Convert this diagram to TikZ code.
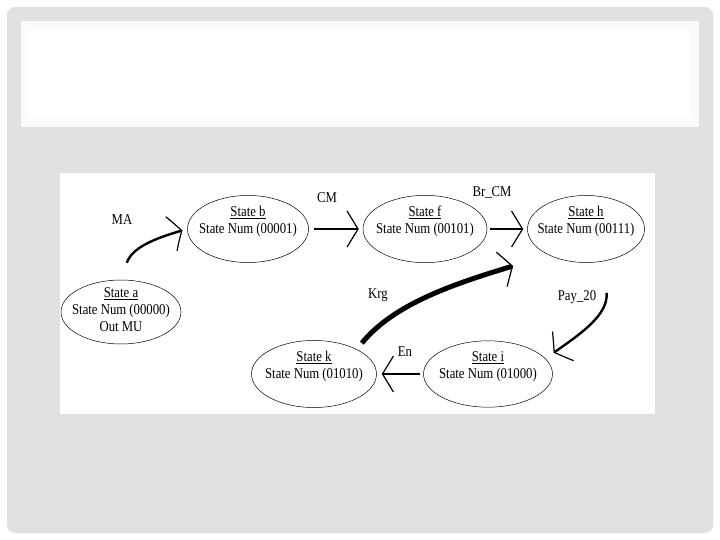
\documentclass[tikz,border=0pt]{standalone}
\usepackage{fontspec}
\setmainfont{Liberation Serif}[FakeStretch=0.85]
\usetikzlibrary{shapes.geometric,arrows.meta,bending}
\definecolor{slidegray}{RGB}{224,224,224}
\definecolor{titlewhite}{RGB}{250,250,250}
\tikzset{
  statenode/.style={ellipse, draw, line width=0.5pt, align=center,
    inner xsep=-8pt, inner ysep=1pt, text depth=18pt,
    font=\fontsize{15}{17}\selectfont},
  swoosh/.style={line width=2.4pt,
    -{Straight Barb[bend,length=11pt,width=36pt,line width=1.2pt]}},
  lbl/.style={font=\fontsize{15}{17}\selectfont},
}
\begin{document}
\begin{tikzpicture}[x=1pt, y=-1pt]
  % slide
  \useasboundingbox (0,0) rectangle (720,540);
  \fill[white] (0,0) rectangle (720,540);
  \fill[slidegray, rounded corners=8pt] (7,7) rectangle (713,533);
  \fill[titlewhite] (21,21) rectangle (699,127);
  \fill[white] (28,29) rectangle (690,118);
  \fill[white] (60,173) rectangle (655,414);

  % states
  \node[statenode, minimum width=120pt, minimum height=64pt, inner ysep=-7pt, text depth=4pt]
    (a) at (121,312) {\underline{State a}\\State Num (00000)\\Out MU};
  \node[statenode, minimum width=121pt, minimum height=64pt] (b) at (248,229) {\underline{State b}\\State Num (00001)};
  \node[statenode, minimum width=124pt, minimum height=62pt] (f) at (425,229) {\underline{State f}\\State Num (00101)};
  \node[statenode, minimum width=117pt, minimum height=62pt] (h) at (586,229) {\underline{State h}\\State Num (00111)};
  \node[statenode, minimum width=125pt, minimum height=58pt] (k) at (314,374) {\underline{State k}\\State Num (01010)};
  \node[statenode, minimum width=129pt, minimum height=58pt] (i) at (488,374) {\underline{State i}\\State Num (01000)};

  % transitions
  \draw[swoosh, shorten <=18pt, shorten >=5pt] (a.north) .. controls +(12,-35) and +(-28,8) .. (b.west);
  \draw[swoosh, shorten <=5pt, shorten >=4pt] (b.east) -- (f.west);
  \draw[swoosh, shorten <=3pt, shorten >=4pt] (f.east) -- (h.west);
  \draw[swoosh, shorten <=32pt, shorten >=10pt] (h.-60) .. controls +(4,60) and +(30,-22) .. (i.15);
  \draw[swoosh, shorten <=3pt, shorten >=5pt] (i.west) -- (k.east);
  \draw[swoosh, line width=5pt, shorten <=8pt, shorten >=37pt] (k.30) .. controls +(45,-55) and +(-70,22) .. (h.-145);

  % labels
  \node[lbl] (lMA) at (122,220) {MA};
  \node[lbl] (lCM) at (327,198) {CM};
  \node[lbl] (lBrCM) at (492,193) {Br\_CM};
  \node[lbl] (lKrg) at (378,295) {Krg};
  \node[lbl] (lPay) at (577,297) {Pay\_20};
  \node[lbl] (lEn) at (405,352) {En};
\end{tikzpicture}
\end{document}
